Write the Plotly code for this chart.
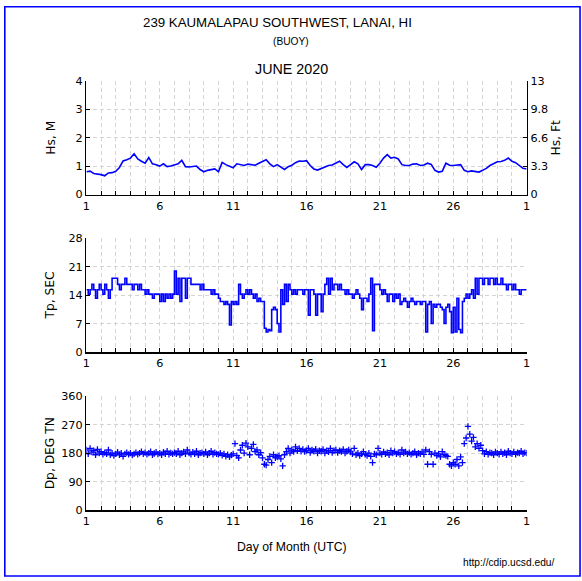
import numpy as np
import plotly.graph_objects as go

# ---------------- data ----------------
# Hs (m), every 6 hours from day 1.00 to day 31.00 (July 1)
hs_m = [
    0.80, 0.82, 0.74, 0.73,
    0.70, 0.66, 0.76, 0.77,
    0.82, 0.95, 1.18, 1.22,
    1.28, 1.43, 1.25, 1.17,
    1.10, 1.30, 1.08, 1.05,
    1.00, 1.08, 0.98, 1.00,
    1.03, 1.08, 1.20, 0.98,
    0.97, 0.99, 1.00, 0.88,
    0.80, 0.85, 0.87, 0.90,
    0.80, 1.13, 1.05, 0.98,
    0.94, 1.08, 1.05, 1.02,
    1.07, 1.05, 1.03, 1.10,
    1.15, 1.22, 1.08, 0.98,
    1.05, 0.96, 0.88, 0.98,
    1.03, 1.12, 1.18, 1.17,
    1.19, 1.02, 0.90, 0.86,
    0.92, 0.98, 1.02, 1.04,
    1.10, 1.17, 1.05, 0.95,
    1.05, 1.15, 1.08, 0.88,
    1.05, 1.05, 1.02, 0.96,
    1.10, 1.28, 1.40, 1.28,
    1.31, 1.25, 1.05, 1.02,
    1.02, 1.07, 1.08, 1.02,
    1.04, 1.10, 1.06, 0.85,
    0.79, 0.82, 1.10, 1.03,
    1.02, 1.03, 1.05, 0.85,
    0.80, 0.83, 0.80, 0.79,
    0.85, 0.92, 1.02, 1.08,
    1.15, 1.16, 1.20, 1.28,
    1.17, 1.12, 1.02, 0.92,
    0.90,
]

# Tp (s), every 3 hours
tp_s = [
    15.4, 14.3, 15.4, 16.7, 15.4, 13.3, 15.4, 16.7,
    15.4, 14.3, 16.7, 15.4, 13.3, 15.4, 18.2, 18.2,
    18.2, 16.7, 15.4, 16.7, 16.7, 18.2, 16.7, 16.7,
    16.7, 15.4, 16.7, 16.7, 15.4, 16.7, 15.4, 15.4,
    14.3, 15.4, 14.3, 14.3, 13.3, 14.3, 14.3, 14.3,
    12.5, 14.3, 12.5, 14.3, 13.3, 14.3, 13.3, 14.3,
    20.0, 14.3, 18.2, 12.5, 18.2, 18.2, 13.3, 18.2,
    18.2, 16.7, 16.7, 16.7, 16.7, 16.7, 15.4, 16.7,
    15.4, 15.4, 15.4, 15.4, 14.3, 15.4, 14.3, 14.3,
    13.3, 12.5, 12.5, 11.8, 12.5, 11.8, 6.7, 12.5,
    11.8, 12.5, 11.8, 16.7, 14.3, 13.3, 14.3, 15.4,
    14.3, 15.4, 14.3, 13.3, 14.3, 12.5, 13.3, 12.5,
    12.5, 5.9, 5.0, 5.6, 5.3, 10.5, 11.1, 10.5,
    7.1, 5.0, 15.4, 11.8, 16.7, 12.5, 16.7, 15.4,
    14.3, 15.4, 14.3, 15.4, 15.4, 15.4, 14.3, 15.4,
    15.4, 9.1, 15.4, 15.4, 14.3, 9.1, 14.3, 14.3,
    10.0, 14.3, 16.7, 18.2, 14.3, 18.2, 15.4, 16.7,
    16.7, 15.4, 16.7, 15.4, 15.4, 14.3, 15.4, 14.3,
    14.3, 13.3, 14.3, 15.4, 14.3, 13.3, 10.5, 13.3,
    13.3, 12.5, 14.3, 18.2, 5.3, 16.7, 16.7, 16.7,
    15.4, 14.3, 15.4, 14.3, 12.5, 14.3, 14.3, 12.5,
    14.3, 13.3, 14.3, 11.8, 12.5, 13.3, 12.5, 11.1,
    12.5, 13.3, 12.5, 11.8, 12.5, 12.5, 11.8, 12.5,
    12.5, 5.0, 11.8, 12.5, 7.1, 11.8, 11.1, 11.8,
    11.8, 11.1, 10.5, 7.1, 11.1, 11.8, 10.0, 4.8,
    11.1, 5.0, 13.3, 5.6, 4.8, 12.5, 13.3, 14.3,
    13.3, 14.3, 15.4, 13.3, 18.2, 14.3, 18.2, 18.2,
    16.7, 18.2, 18.2, 16.7, 18.2, 18.2, 16.7, 18.2,
    16.7, 16.7, 18.2, 16.7, 16.7, 15.4, 16.7, 16.7,
    15.4, 16.7, 15.4, 15.4, 14.3, 15.4, 15.4, 15.4,
    15.4,
]

# Dp (deg true), every 3 hours
dp_deg = [
    190, 178, 195, 183, 188, 175, 192, 180,
    185, 176, 182, 178, 190, 175, 180, 172,
    178, 183, 175, 180, 170, 178, 182, 176,
    180, 174, 178, 182, 176, 180, 185, 178,
    182, 176, 180, 185, 175, 179, 183, 177,
    180, 175, 183, 178, 186, 176, 181, 178,
    182, 178, 186, 175, 180, 184, 178, 190,
    180, 176, 183, 178, 186, 175, 180, 182,
    178, 184, 175, 180, 186, 176, 182, 178,
    176, 180, 173, 178, 170, 175, 168, 174,
    178, 210, 172, 165, 190, 205, 180, 212,
    200, 175, 195, 208, 185, 190, 175, 182,
    165, 145, 142, 160, 170, 150, 175, 165,
    168, 172, 162, 140, 175, 185, 195, 180,
    190, 185, 200, 188, 195, 186, 192, 185,
    188, 195, 182, 190, 186, 193, 180, 188,
    186, 192, 180, 188, 184, 195, 182, 188,
    190, 182, 188, 185, 192, 180, 186, 190,
    184, 178, 195, 175, 180, 172, 178, 185,
    176, 172, 180, 170, 150, 178, 175, 195,
    180, 176, 184, 178, 182, 175, 188, 180,
    185, 178, 182, 176, 190, 180, 184, 178,
    182, 176, 180, 185, 175, 180, 178, 184,
    176, 190, 145, 185, 176, 145, 180, 172,
    178, 168, 185, 175, 172, 170, 145, 140,
    150, 145, 160, 140, 168, 150, 210, 228,
    265, 240, 218, 230, 200, 210, 195, 205,
    188, 178, 185, 176, 182, 180, 175, 184,
    180, 176, 184, 178, 182, 175, 186, 180,
    178, 184, 176, 182, 180, 186, 178, 182,
    180,
]

t_hs = np.linspace(1, 31, len(hs_m))
t_tp = np.linspace(1, 31, len(tp_s))
t_dp = np.linspace(1, 31, len(dp_deg))

day_ticks = list(range(1, 32))
day_labels = ["1", "6", "11", "16", "21", "26", "1"]
day_text = [day_labels[(d - 1) // 5] if (d - 1) % 5 == 0 else "" for d in day_ticks]

hs_ticks = [0, 1, 2, 3, 4]
ft_text = ["0", "3.3", "6.6", "9.8", "13"]
tp_ticks = [0, 7, 14, 21, 28]
dp_ticks = [0, 90, 180, 270, 360]

# ---------------- layout helpers ----------------
W, H = 582, 581
BLUE = "#0000ff"
GRID = "#d4d4d4"
# the page is photographed slightly reduced; compensate
S, OFF = 0.979, 5.2
TICKFONT = dict(family="DejaVu Sans", size=11 / S, color="black")


def px_x(p):
    return ((p - OFF) / S) / W


def px_y(p):
    return 1 - ((p - OFF) / S) / H


XL, XR = 87, 524
panels = [(80, 194), (238, 352), (396, 510)]


def xaxis(anchor, top, bot):
    return dict(
        domain=[px_x(XL), px_x(XR)], anchor=anchor, range=[1, 31],
        tickmode="array", tickvals=day_ticks, ticktext=day_text,
        ticks="inside", ticklen=4, tickwidth=1, tickcolor="black",
        showline=True, linecolor="black", linewidth=1.5,
        showgrid=True, gridcolor=GRID, griddash="4px,3px", gridwidth=1,
        zeroline=False, tickfont=TICKFONT, fixedrange=True,
    )


def yaxis(anchor, top, bot, ticks):
    return dict(
        domain=[px_y(bot), px_y(top)], anchor=anchor, range=[ticks[0], ticks[-1]],
        tickmode="array", tickvals=ticks, ticktext=[str(v) for v in ticks],
        ticks="inside", ticklen=4, tickwidth=1, tickcolor="black",
        showline=True, linecolor="black", linewidth=1.5,
        showgrid=True, gridcolor=GRID, griddash="4px,3px", gridwidth=1,
        zeroline=False, tickfont=TICKFONT, fixedrange=True,
    )


fig = go.Figure()

fig.add_trace(go.Scatter(x=t_hs, y=hs_m, mode="lines", line=dict(color=BLUE, width=1.6),
                         xaxis="x", yaxis="y", showlegend=False, hoverinfo="skip"))
fig.add_trace(go.Scatter(x=[], y=[], mode="lines", xaxis="x", yaxis="y4",
                         showlegend=False, hoverinfo="skip"))
fig.add_trace(go.Scatter(x=t_tp, y=tp_s, mode="lines", line=dict(color=BLUE, width=1.6, shape="hv"),
                         xaxis="x2", yaxis="y2", showlegend=False, hoverinfo="skip"))
fig.add_trace(go.Scatter(x=t_dp, y=dp_deg, mode="markers",
                         marker=dict(symbol="cross-thin", size=4.5, line=dict(color=BLUE, width=1.3)),
                         xaxis="x3", yaxis="y3", showlegend=False, hoverinfo="skip"))

(t1, b1), (t2, b2), (t3, b3) = panels
y4 = yaxis("x", t1, b1, hs_ticks)
y4.update(overlaying="y", side="right", ticktext=ft_text, showgrid=False)

fig.update_layout(
    width=W, height=H, autosize=False,
    margin=dict(l=0, r=0, t=0, b=0),
    paper_bgcolor="white", plot_bgcolor="white",
    xaxis=xaxis("y", t1, b1), yaxis=yaxis("x", t1, b1, hs_ticks),
    xaxis2=xaxis("y2", t2, b2), yaxis2=yaxis("x2", t2, b2, tp_ticks),
    xaxis3=xaxis("y3", t3, b3), yaxis3=yaxis("x3", t3, b3, dp_ticks),
    yaxis4=y4,
    font=dict(family="Liberation Sans", color="black"),
)


def ann(text, x, y, size, family="Liberation Sans", angle=0, xanchor="center"):
    fig.add_annotation(text=text, x=px_x(x), y=px_y(y), xref="paper", yref="paper",
                       showarrow=False, textangle=angle, xanchor=xanchor, yanchor="middle",
                       font=dict(family=family, size=size / S, color="black"))


ann("239 KAUMALAPAU SOUTHWEST, LANAI, HI", 277, 22, 13)
ann("(BUOY)", 290, 41, 10)
ann("JUNE 2020", 291, 68, 14)
ann("Hs, M", 51, 137, 12, family="DejaVu Sans", angle=-90)
ann("Hs, Ft", 553, 137, 12, family="DejaVu Sans", angle=-90)
ann("Tp, SEC", 51, 295, 12, family="DejaVu Sans", angle=-90)
ann("Dp, DEG TN", 51, 453, 12, family="DejaVu Sans", angle=-90)
ann("Day of Month (UTC)", 291, 547, 12)
ann("http://cdip.ucsd.edu/", 553, 562, 10, xanchor="right")

fig.add_shape(type="rect", xref="paper", yref="paper",
              x0=px_x(6.0), x1=px_x(577), y0=px_y(576), y1=px_y(6.0),
              line=dict(color=BLUE, width=1.6), layer="above")

fig.write_html(
    "out.html",
    config={"displayModeBar": False, "staticPlot": True},
    post_script="document.body.style.margin='0';document.body.style.overflow='hidden';",
)
